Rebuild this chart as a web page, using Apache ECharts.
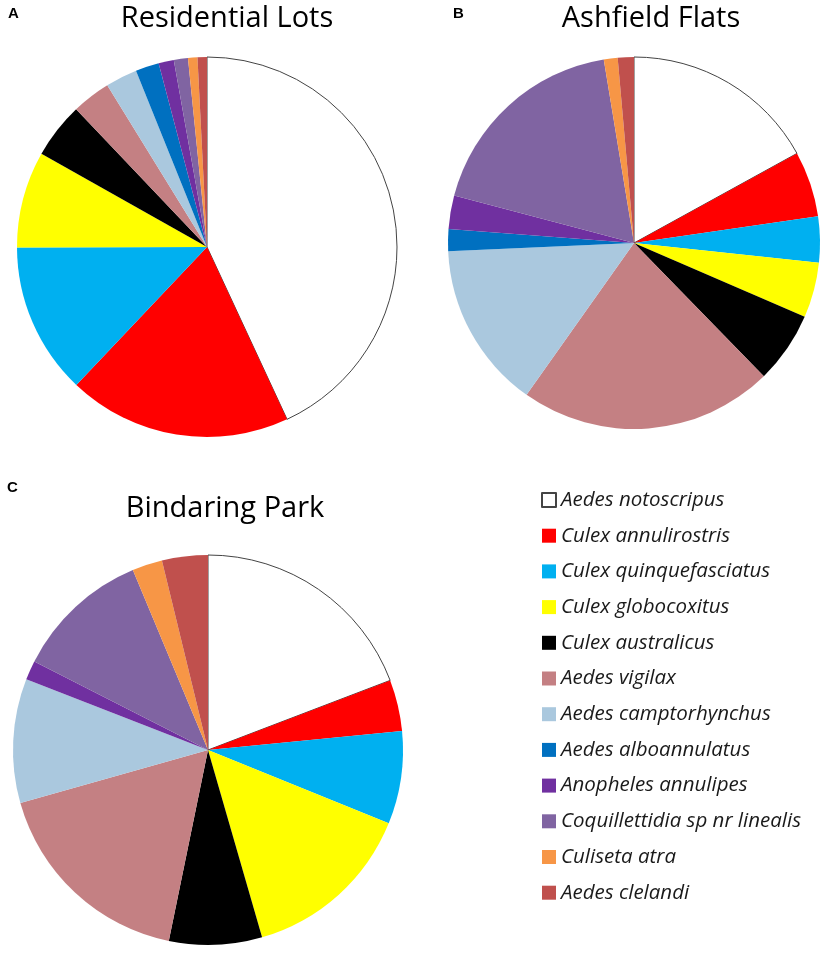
<!DOCTYPE html>
<html>
<head>
<meta charset="utf-8">
<script src="https://cdn.jsdelivr.net/npm/echarts@6/dist/echarts.min.js"></script>
<style>
html,body{margin:0;padding:0;background:#fff;}
#chart{width:827px;height:960px;}
</style>
</head>
<body>
<div id="chart"></div>
<script>
const species = [
  'Aedes notoscripus','Culex annulirostris','Culex quinquefasciatus','Culex globocoxitus',
  'Culex australicus','Aedes vigilax','Aedes camptorhynchus','Aedes alboannulatus',
  'Anopheles annulipes','Coquillettidia sp nr linealis','Culiseta atra','Aedes clelandi'
];
const speciesColors = ['#FFFFFF','#FF0000','#00B0F0','#FFFF00','#000000','#C48083','#AAC8DE','#0070C0','#7030A0','#8064A2','#F79646','#C0504D'];
const residentialLots = [43.1, 19.0, 12.9, 8.2, 4.75, 3.3, 2.7, 2.0, 1.3, 1.2, 0.8, 0.8];
const ashfieldFlats   = [17.0, 5.7, 4.0, 4.8, 6.2, 22.1, 14.5, 1.9, 2.9, 18.3, 1.2, 1.4];
const bindaringPark   = [19.2, 4.25, 7.7, 14.4, 7.7, 17.4, 10.3, 0, 1.6, 11.2, 2.5, 3.8];
const panelTitles = ['Residential Lots','Ashfield Flats','Bindaring Park'];
const panelLetters = ['A','B','C'];

function buildData(vals){
  return species.map((name,i)=>{
    const item = {name:name, value:vals[i], itemStyle:{color:speciesColors[i]}};
    if(i===0){ item.itemStyle.borderColor='#444'; item.itemStyle.borderWidth=1; }
    return item;
  });
}
function pie(vals, center, radius){
  return {
    type:'pie', center:center, radius:radius, startAngle:90, clockwise:true,
    label:{show:false}, labelLine:{show:false}, silent:true, animation:false,
    avoidLabelOverlap:false, minAngle:0, emphasis:{disabled:true},
    data: buildData(vals)
  };
}
const chart = echarts.init(document.getElementById('chart'), null, {renderer:'canvas'});
const titleFont = {fontFamily:'Open Sans', fontSize:29, fontWeight:'normal', color:'#000'};
const letterFont = {fontFamily:'Liberation Sans', fontSize:15, fontWeight:'bold', color:'#000'};
chart.setOption({
  backgroundColor:'#fff',
  animation:false,
  title:[
    {text:panelTitles[0], left:227, top:4, padding:0, textAlign:'center', textStyle:titleFont},
    {text:panelTitles[1], left:651, top:4, padding:0, textAlign:'center', textStyle:titleFont},
    {text:panelTitles[2], left:225, top:494, padding:0, textAlign:'center', textStyle:titleFont},
    {text:panelLetters[0], left:8, top:6, padding:0, textStyle:letterFont},
    {text:panelLetters[1], left:453, top:6, padding:0, textStyle:letterFont},
    {text:panelLetters[2], left:7, top:480, padding:0, textStyle:letterFont}
  ],
  legend:{
    orient:'vertical', left:541, top:488, padding:0, itemWidth:14, itemHeight:14, itemGap:11.7,
    icon:'rect', selectedMode:false, data:species,
    textStyle:{fontFamily:'Open Sans', fontStyle:'italic', fontSize:20.5, color:'#1a1a1a', lineHeight:24}
  },
  series:[
    pie(residentialLots, [207,247], [0,190]),
    pie(ashfieldFlats, [634,243], [0,186]),
    pie(bindaringPark, [208,750], [0,195])
  ]
});
</script>
</body>
</html>
